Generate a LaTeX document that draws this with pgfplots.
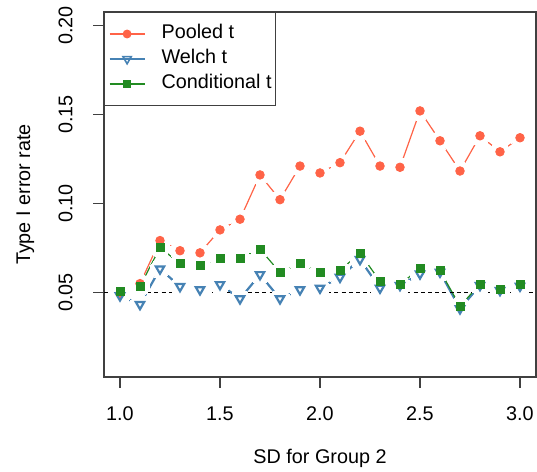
\documentclass[border=0pt]{standalone}
\usepackage{pgfplots}
\pgfplotsset{compat=1.18}
\usepackage{pgfplotstable}
\usepackage{fontspec}
\setmainfont{Liberation Sans}
\definecolor{tomato}{RGB}{255,99,71}
\definecolor{steelblue}{RGB}{70,130,180}
\definecolor{forestgreen}{RGB}{34,139,34}

\pgfplotstableread{
x p w c
1.0 0.0495 0.0481 0.0504
1.1 0.0549 0.0432 0.0534
1.2 0.0791 0.0632 0.0752
1.3 0.0734 0.0533 0.0661
1.4 0.0722 0.0515 0.0651
1.5 0.0851 0.0544 0.0693
1.6 0.0911 0.0464 0.0693
1.7 0.1160 0.0600 0.0743
1.8 0.1021 0.0464 0.0612
1.9 0.1210 0.0515 0.0661
2.0 0.1171 0.0524 0.0612
2.1 0.1229 0.0585 0.0623
2.2 0.1406 0.0685 0.0721
2.3 0.1210 0.0524 0.0562
2.4 0.1203 0.0539 0.0543
2.5 0.1520 0.0604 0.0637
2.6 0.1352 0.0614 0.0622
2.7 0.1182 0.0408 0.0422
2.8 0.1380 0.0539 0.0547
2.9 0.1290 0.0511 0.0515
3.0 0.1369 0.0535 0.0547
}\data

% white gap round each point of a series, so that its line stops short of its points (type "b")
\pgfplotsset{gap/.style={forget plot, only marks, white, mark=*, mark size=4.9bp, mark options={draw=white, fill=white, line width=0pt}}}

\begin{document}
\fontsize{9.9bp}{11bp}\selectfont
\begin{tikzpicture}
\begin{axis}[
  scale only axis,
  width=216bp, height=182.5bp,
  xmin=0.92, xmax=3.08,
  ymin=0.0024, ymax=0.2076,
  axis line style={black!75, line width=0.6bp},
  xtick={1.0,1.5,2.0,2.5,3.0},
  ytick={0.05,0.10,0.15,0.20},
  xtick pos=left, ytick pos=left,
  tick align=outside,
  major tick length=5.25bp,
  tick style={black!75, line width=0.6bp},
  /pgf/number format/assume math mode=true,
  xticklabel style={/pgf/number format/fixed, /pgf/number format/fixed zerofill, /pgf/number format/precision=1},
  yticklabel style={/pgf/number format/fixed, /pgf/number format/fixed zerofill, /pgf/number format/precision=2},
  every x tick label/.append style={anchor=center, yshift=-13bp},
  every y tick label/.append style={anchor=center, xshift=-14bp, rotate=90},
  xlabel={SD for Group 2},
  ylabel={Type I error rate},
  every axis x label/.style={at={(axis description cs:0.5,-0.222)}, anchor=center},
  every axis y label/.style={at={(axis description cs:-0.182,0.5)}, rotate=90, anchor=center},
  legend style={at={(axis description cs:0,1)}, anchor=north west,
    draw=black!75, line width=0.6bp, fill=white,
    inner xsep=2bp, inner ysep=6.2bp, row sep=3.5bp, column sep=8bp,
    nodes={inner sep=0pt, text height=7bp, text depth=2bp},
    font=\fontsize{9.9bp}{11bp}\selectfont},
  legend cell align=left,
  legend image code/.code={\draw[mark repeat=2, mark phase=2] plot coordinates {(0bp,0bp) (8.75bp,0bp) (17.5bp,0bp)};},
]
\addlegendimage{tomato, line width=0.6bp, mark=*, mark size=1.9bp}
\addlegendentry{Pooled t}
\addlegendimage{steelblue, line width=1bp, mark=triangle, mark size=2.4bp, mark options={rotate=180, line width=0.8bp}}
\addlegendentry{Welch t}
\addlegendimage{forestgreen, line width=0.6bp, mark=square*, mark size=1.8bp}
\addlegendentry{Conditional t}

% lines, each followed by the gaps round its own points
\addplot[forget plot, tomato, line width=0.6bp, mark=none] table[x=x, y=p]{\data};
\addplot[gap] table[x=x, y=p]{\data};
\addplot[forget plot, steelblue, line width=1.1bp, mark=none] table[x=x, y=w]{\data};
\addplot[gap] table[x=x, y=w]{\data};
\addplot[forget plot, forestgreen, line width=0.6bp, mark=none] table[x=x, y=c]{\data};
\addplot[gap] table[x=x, y=c]{\data};

% reference line at the nominal level
\addplot[forget plot, black, line width=0.5bp, dash pattern=on 2bp off 1.6bp] coordinates {(0.92,0.05) (3.08,0.05)};

% points
\addplot[forget plot, only marks, mark=*, mark size=2.15bp, color=tomato] table[x=x, y=p]{\data};
\addplot[forget plot, only marks, mark=triangle, mark size=2.4bp, color=steelblue, line width=1.1bp, mark options={rotate=180}] table[x=x, y=w]{\data};
\addplot[forget plot, only marks, mark=square*, mark size=2bp, color=forestgreen] table[x=x, y=c]{\data};
\end{axis}
\pgfresetboundingbox
\path (-52bp,-47.5bp) rectangle (216.5bp,188.5bp);
\end{tikzpicture}
\end{document}
